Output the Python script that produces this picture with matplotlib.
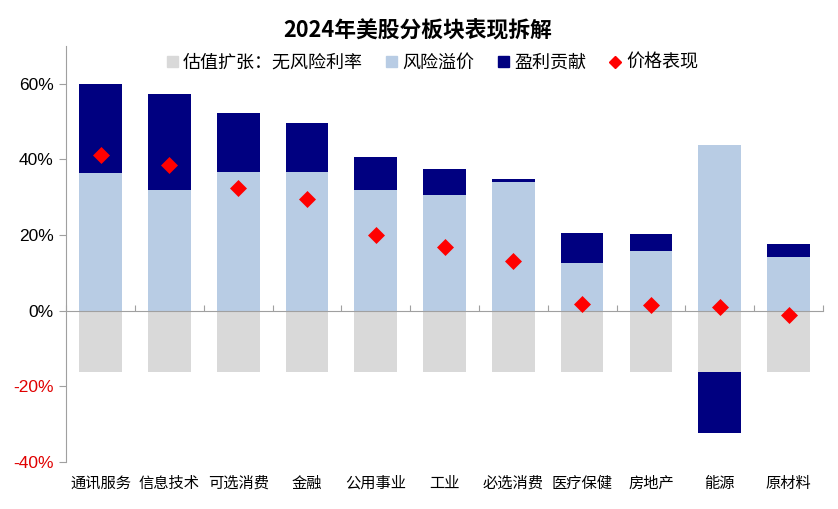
import numpy as np
import matplotlib.pyplot as plt
from matplotlib.lines import Line2D
from matplotlib.patches import Patch

plt.rcParams['font.family'] = ['Noto Sans CJK SC', 'DejaVu Sans']

# donnees (en %)
sectors = ['通讯服务', '信息技术', '可选消费', '金融', '公用事业', '工业',
           '必选消费', '医疗保健', '房地产', '能源', '原材料']
rf = np.array([-16.2] * 11)  # 估值扩张：无风险利率
premium = np.array([36.4, 32.0, 36.7, 36.7, 32.0, 30.6, 34.1, 12.5, 15.9, 43.7, 14.2])
earnings = np.array([23.5, 25.2, 15.6, 13.0, 8.5, 6.8, 0.6, 8.0, 4.3, -16.2, 3.5])
price = np.array([41.2, 38.6, 32.5, 29.5, 20.1, 16.9, 13.1, 1.8, 1.4, 1.0, -1.0])

c_rf = '#D9D9D9'
c_prem = '#B8CCE4'
c_earn = '#000080'
c_price = '#FF0000'

fig = plt.figure(figsize=(8.38, 5.09), dpi=100)
ax = fig.add_axes([0.079, 0.092, 0.903, 0.818])

x = np.arange(len(sectors))
w = 0.62
ax.bar(x, rf, w, color=c_rf, zorder=2)
ax.bar(x, premium, w, color=c_prem, zorder=2)
# empilement : positif au-dessus de la prime, negatif sous le gris
bottom_e = np.where(earnings >= 0, premium, rf)
ax.bar(x, earnings, w, bottom=bottom_e, color=c_earn, zorder=2)
ax.scatter(x, price, marker='D', s=75, color=c_price, zorder=4, linewidths=0)

ax.set_xlim(-0.5, len(sectors) - 0.5)
ax.set_ylim(-40, 70)
ax.set_yticks([-40, -20, 0, 20, 40, 60])
ax.set_yticklabels(['-40%', '-20%', '0%', '20%', '40%', '60%'],
                   family=['Liberation Sans', 'DejaVu Sans'], fontsize=12.5)
for lab in ax.get_yticklabels():
    if lab.get_text().startswith('-'):
        lab.set_color('#E00000')

ax.spines['top'].set_visible(False)
ax.spines['right'].set_visible(False)
ax.spines['left'].set_color('#A0A0A0')
ax.spines['bottom'].set_position(('data', 0))
ax.spines['bottom'].set_color('#A0A0A0')
ax.spines['bottom'].set_zorder(3)
ax.tick_params(axis='y', length=5, color='#A0A0A0', pad=4)

# petits traits entre les categories sur l'axe 0
ax.set_xticks(np.arange(len(sectors) + 1) - 0.5)
ax.set_xticklabels([])
ax.tick_params(axis='x', length=4, direction='in', color='#A0A0A0')
for i, s in enumerate(sectors):
    ax.text(i, -43.3, s, ha='center', va='top', fontsize=11)

fig.text(0.499, 0.94, '2024年美股分板块表现拆解', ha='center', va='center',
         fontsize=15.7, fontweight='bold')

handles = [Patch(color=c_rf, label='估值扩张：无风险利率'),
           Patch(color=c_prem, label='风险溢价'),
           Patch(color=c_earn, label='盈利贡献'),
           Line2D([], [], marker='D', color=c_price, linestyle='none',
                  markersize=6, label='价格表现')]
fig.legend(handles=handles, loc='center', bbox_to_anchor=(0.516, 0.877), ncol=4,
           frameon=False, fontsize=13, handlelength=0.6, handleheight=0.6,
           handletextpad=0.3, columnspacing=1.3)

fig.savefig('out.png', dpi=100)
